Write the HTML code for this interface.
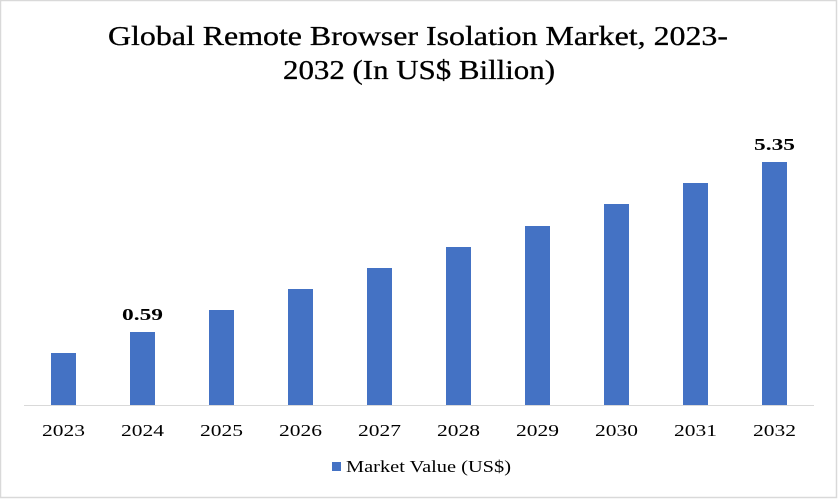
<!DOCTYPE html>
<html><head><style>
body{margin:0;background:#fff}
svg{display:block}
text{font-family:"Liberation Serif",serif;fill:#000}
</style></head><body>
<svg width="838" height="499" xmlns="http://www.w3.org/2000/svg">
<rect x="0.5" y="0.5" width="836" height="497" fill="#fff" stroke="#d9d9d9" stroke-width="1.5"/>
<text x="108" y="45" font-size="27" textLength="620" lengthAdjust="spacingAndGlyphs" stroke="#000" stroke-width="0.3">Global Remote Browser Isolation Market, 2023-</text>
<text x="283" y="79" font-size="27" textLength="272" lengthAdjust="spacingAndGlyphs" stroke="#000" stroke-width="0.3">2032 (In US$ Billion)</text>
<line x1="24" y1="405.5" x2="814" y2="405.5" stroke="#d9d9d9" stroke-width="1"/>
<g fill="#4472c4">
<rect x="51" y="353" width="25" height="52"/>
<rect x="130" y="332" width="25" height="73"/>
<rect x="209" y="310" width="25" height="95"/>
<rect x="288" y="289" width="25" height="116"/>
<rect x="367" y="268" width="25" height="137"/>
<rect x="446" y="247" width="25" height="158"/>
<rect x="525" y="226" width="25" height="179"/>
<rect x="604" y="204" width="25" height="201"/>
<rect x="683" y="183" width="25" height="222"/>
<rect x="762" y="162" width="25" height="243"/>
</g>
<text x="122" y="320" font-size="17" font-weight="bold" textLength="41" lengthAdjust="spacingAndGlyphs">0.59</text>
<text x="754" y="150" font-size="17" font-weight="bold" textLength="41" lengthAdjust="spacingAndGlyphs">5.35</text>
<g font-size="17">
<text x="42" y="436" textLength="43" lengthAdjust="spacingAndGlyphs">2023</text>
<text x="121" y="436" textLength="43" lengthAdjust="spacingAndGlyphs">2024</text>
<text x="200" y="436" textLength="43" lengthAdjust="spacingAndGlyphs">2025</text>
<text x="279" y="436" textLength="43" lengthAdjust="spacingAndGlyphs">2026</text>
<text x="358" y="436" textLength="43" lengthAdjust="spacingAndGlyphs">2027</text>
<text x="437" y="436" textLength="43" lengthAdjust="spacingAndGlyphs">2028</text>
<text x="516" y="436" textLength="43" lengthAdjust="spacingAndGlyphs">2029</text>
<text x="595" y="436" textLength="43" lengthAdjust="spacingAndGlyphs">2030</text>
<text x="674" y="436" textLength="43" lengthAdjust="spacingAndGlyphs">2031</text>
<text x="753" y="436" textLength="43" lengthAdjust="spacingAndGlyphs">2032</text>
</g>
<rect x="332" y="462" width="9" height="9" fill="#4472c4"/>
<text x="346" y="472" font-size="17" textLength="165" lengthAdjust="spacingAndGlyphs">Market Value (US$)</text>
</svg>
</body></html>
